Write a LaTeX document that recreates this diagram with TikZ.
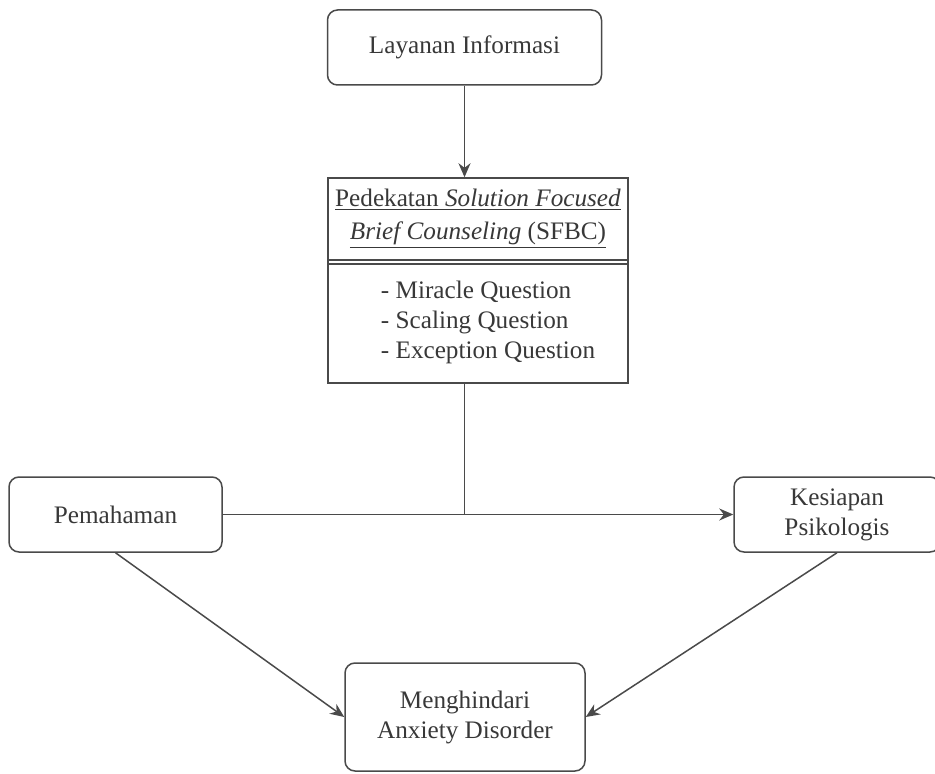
\documentclass[tikz,border=0pt]{standalone}
\usepackage{fontspec}
\setmainfont{Liberation Serif}
\usetikzlibrary{arrows.meta}
\definecolor{linegray}{HTML}{4A4A4A}
\definecolor{textgray}{HTML}{383838}
\begin{document}
\begin{tikzpicture}[x=0.5pt,y=-0.5pt,
  box/.style={draw=linegray,line width=0.75pt,rounded corners=5pt,align=center,
    text=textgray,font=\fontsize{12.6}{15}\selectfont,inner sep=0pt},
  sqbox/.style={box,rounded corners=0pt},
  txt/.style={text=textgray,font=\fontsize{12.6}{15}\selectfont,inner sep=0pt},
  link/.style={draw=linegray,line width=0.75pt},
  arr/.style={link,-{Stealth[length=7pt,width=6pt]}}]
\useasboundingbox (0,0) rectangle (935,774);
%BOXES
\node [box,minimum width=137pt,minimum height=37.5pt] (lay) at (464.5,47.5) {Layanan Informasi};
\node [sqbox,minimum width=150pt,minimum height=102.5pt] (sfbc) at (478,280.5) {};
\node [txt,align=center,font=\fontsize{12.6}{16.5}\selectfont] (head) at (478,219)
  {\underline{Pedekatan \textit{Solution Focused}}\\\underline{\textit{Brief Counseling} (SFBC)}};
\node [txt,align=left] (list) at (488,322) {- Miracle Question\\- Scaling Question\\- Exception Question};
\node [box,minimum width=106.5pt,minimum height=37.5pt] (pem) at (115.5,514.5) {Pemahaman};
\node [box,minimum width=103pt,minimum height=37.5pt] (kes) at (837,514.5) {Kesiapan\\Psikologis};
\node [box,minimum width=120pt,minimum height=54pt] (meng) at (465,717) {Menghindari\\Anxiety Disorder};
%DOUBLE LINE IN SFBC BOX
\draw [link] (sfbc.west |- 0,260) -- (sfbc.east |- 0,260);
\draw [link] (sfbc.west |- 0,264) -- (sfbc.east |- 0,264);
%CONNECTORS
\draw [arr] (lay.south) -- (lay.south |- sfbc.north);
\coordinate (join) at (lay.south |- pem.east);
\draw [link] (lay.south |- sfbc.south) -- (join);
\draw [arr] (pem.east) -- (kes.west);
\draw [arr] (pem.south) -- (meng.west);
\draw [arr] (kes.south) -- (meng.east);
\end{tikzpicture}
\end{document}
